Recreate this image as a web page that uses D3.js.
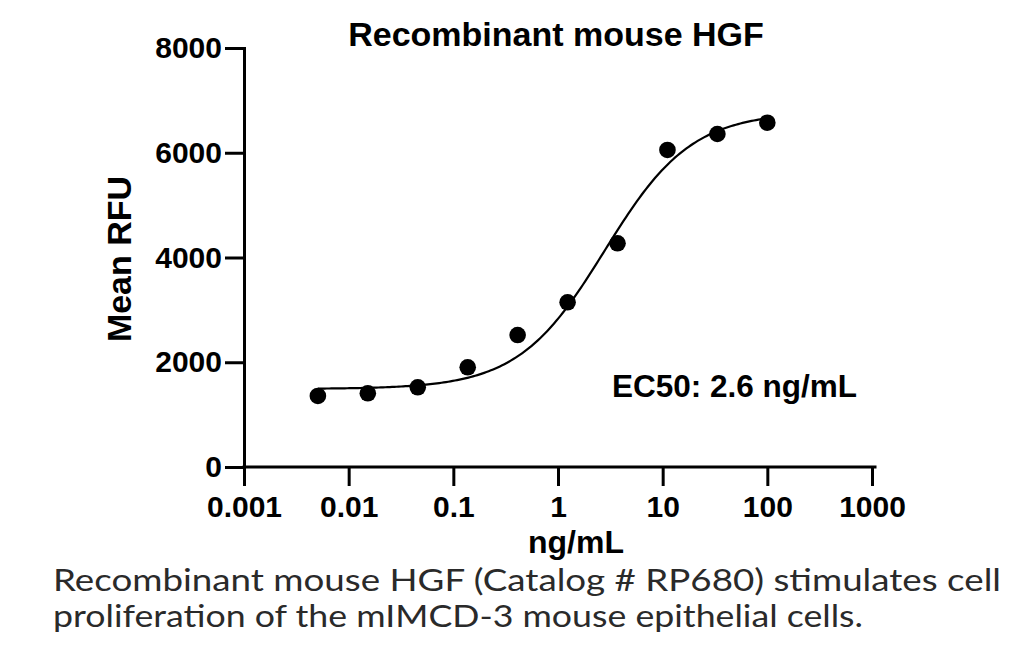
<!DOCTYPE html>
<html>
<head>
<meta charset="utf-8">
<script src="https://cdn.jsdelivr.net/npm/d3@7"></script>
<style>
  html, body { margin: 0; padding: 0; background: #fff; }
  svg { display: block; }
</style>
</head>
<body>
<svg id="chart" width="1024" height="650"></svg>
<script>
// ---- data ----
const concentrations = [0.00508, 0.01524, 0.04572, 0.1372, 0.4115, 1.235, 3.704, 11.11, 33.33, 100];
const meanRFU = [1356, 1407, 1522, 1904, 2520, 3145, 4271, 6053, 6358, 6574];
const xTicks = [0.001, 0.01, 0.1, 1, 10, 100, 1000];
const yTicks = [0, 2000, 4000, 6000, 8000];
// 4-parameter logistic fit shown as the line
const fitBottom = 1490;
const fitTop = 6780;
const fitEC50 = 2.8;
const fitHill = 1.05;
const titleText = "Recombinant mouse HGF";
const xTitle = "ng/mL";
const yTitle = "Mean RFU";
const ec50Label = "EC50: 2.6 ng/mL";
const captionLines = [
  "Recombinant mouse HGF (Catalog # RP680) stimulates cell",
  "proliferation of the mIMCD-3 mouse epithelial cells."
];

// ---- layout ----
const svg = d3.select("#chart");
const plotLeft = 244, plotRight = 872, plotTop = 48, plotBottom = 467;
const boldFont = "'Liberation Sans', Arial, Helvetica, sans-serif";

const x = d3.scaleLog().domain([0.001, 1000]).range([plotLeft, plotRight]);
const y = d3.scaleLinear().domain([0, 8000]).range([plotBottom, plotTop]);

// axes
const xAxis = d3.axisBottom(x).tickValues(xTicks)
  .tickFormat(d => String(d)).tickSize(19).tickSizeOuter(0).tickPadding(10);
const yAxis = d3.axisLeft(y).tickValues(yTicks)
  .tickFormat(d => String(d)).tickSize(19).tickSizeOuter(0).tickPadding(3);

const gx = svg.append("g").attr("transform", `translate(0,${plotBottom})`).call(xAxis);
const gy = svg.append("g").attr("transform", `translate(${plotLeft},0)`).call(yAxis);

[gx, gy].forEach(g => {
  g.select(".domain").attr("stroke", "#000").attr("stroke-width", 3).attr("stroke-linecap", "square");
  g.selectAll(".tick line").attr("stroke", "#000").attr("stroke-width", 3);
  g.selectAll(".tick text")
    .attr("fill", "#000")
    .style("font-family", boldFont)
    .style("font-weight", "bold")
    .style("font-size", "30px");
});
gx.select(".domain").attr("d", `M${plotLeft},0H${x(1000) + 3}`);

// fitted curve
const fitFn = c => fitBottom + (fitTop - fitBottom) / (1 + Math.pow(fitEC50 / c, fitHill));
const xMin = d3.min(concentrations), xMax = d3.max(concentrations);
const curveXs = d3.range(0, 201).map(i => Math.pow(10, Math.log10(xMin) + (Math.log10(xMax) - Math.log10(xMin)) * i / 200));
const line = d3.line().x(d => x(d)).y(d => y(fitFn(d)));
svg.append("path")
  .datum(curveXs)
  .attr("d", line)
  .attr("fill", "none")
  .attr("stroke", "#000")
  .attr("stroke-width", 2.2);

// points
svg.append("g").selectAll("circle")
  .data(concentrations.map((c, i) => ({ c, v: meanRFU[i] })))
  .join("circle")
  .attr("cx", d => x(d.c))
  .attr("cy", d => y(d.v))
  .attr("r", 8.3)
  .attr("fill", "#000");

// title
svg.append("text")
  .attr("x", 556).attr("y", 46)
  .attr("text-anchor", "middle")
  .style("font-family", boldFont).style("font-weight", "bold").style("font-size", "34px")
  .text(titleText);

// y title
svg.append("text")
  .attr("transform", `translate(131,259) rotate(-90)`)
  .attr("text-anchor", "middle")
  .style("font-family", boldFont).style("font-weight", "bold").style("font-size", "34px")
  .text(yTitle);

// x title
svg.append("text")
  .attr("x", 576).attr("y", 553)
  .attr("text-anchor", "middle")
  .style("font-family", boldFont).style("font-weight", "bold").style("font-size", "32px")
  .text(xTitle);

// EC50 label
svg.append("text")
  .attr("x", 612).attr("y", 397)
  .style("font-family", boldFont).style("font-weight", "bold").style("font-size", "31.5px")
  .text(ec50Label);

// caption
const capWidths = [948, 810];
svg.append("g").selectAll("text")
  .data(captionLines)
  .join("text")
  .attr("x", 53)
  .attr("y", (d, i) => 591 + i * 36)
  .attr("textLength", (d, i) => capWidths[i])
  .attr("lengthAdjust", "spacingAndGlyphs")
  .attr("fill", "#2a2a2a")
  .style("font-family", "Lato, 'Open Sans', sans-serif")
  .style("font-weight", 400)
  .style("font-size", "31px")
  .text(d => d);
</script>
</body>
</html>
